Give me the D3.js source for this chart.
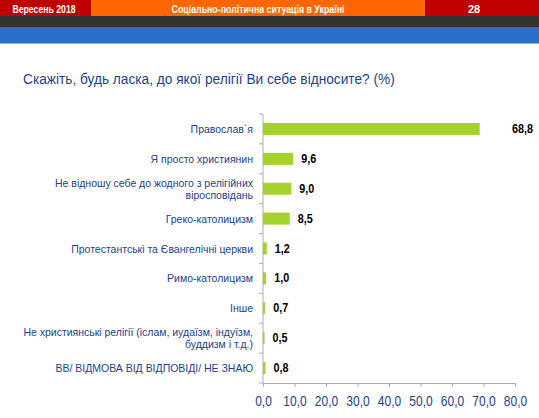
<!DOCTYPE html>
<html>
<head>
<meta charset="utf-8">
<script src="https://cdn.jsdelivr.net/npm/d3@7"></script>
<style>
  body { margin: 0; background: #fff; }
  svg { display: block; font-family: "Liberation Sans", Arial, sans-serif; }
</style>
</head>
<body>
<script>
const categories = [
  ["Православ`я"],
  ["Я просто християнин"],
  ["Не відношу себе до жодного з релігійних", "віросповідань"],
  ["Греко-католицизм"],
  ["Протестантські та Євангелічні церкви"],
  ["Римо-католицизм"],
  ["Інше"],
  ["Не християнські релігії (іслам, иудаїзм, індуїзм,", "буддизм і т.д.)"],
  ["ВВ/ ВІДМОВА ВІД ВІДПОВІДІ/ НЕ ЗНАЮ"]
];
const values = [68.8, 9.6, 9.0, 8.5, 1.2, 1.0, 0.7, 0.5, 0.8];
const ticks = [0, 10, 20, 30, 40, 50, 60, 70, 80];

const W = 539, H = 418;
const fmt = v => v.toFixed(1).replace(".", ",");
const blue = "#213f8f";
const axisCol = "#a9adbb";

const svg = d3.select("body").append("svg")
  .attr("width", W).attr("height", H);

// text slightly stretched vertically, like the exported slide
const label = (g, x, y, txt, size, k) => g.append("text")
  .attr("transform", `translate(${x},${y}) scale(1,${k})`)
  .attr("font-size", size).text(txt);

// header bands
svg.append("rect").attr("x", 0).attr("y", 0).attr("width", 91).attr("height", 16).attr("fill", "#c00000");
svg.append("rect").attr("x", 91).attr("y", 0).attr("width", 334).attr("height", 16).attr("fill", "#ff6600");
svg.append("rect").attr("x", 425).attr("y", 0).attr("width", 114).attr("height", 16).attr("fill", "#c00000");
svg.append("rect").attr("x", 0).attr("y", 16).attr("width", W).attr("height", 11).attr("fill", "#333333");
svg.append("rect").attr("x", 0).attr("y", 27).attr("width", W).attr("height", 16).attr("fill", "#2a70c8");
svg.append("rect").attr("x", 0).attr("y", 43).attr("width", W).attr("height", 1).attr("fill", "#8fb4e3");

label(svg, 44, 12.7, "Вересень 2018", 8.7, 1.25)
  .attr("text-anchor", "middle").attr("fill", "#fff").attr("font-weight", "bold");
label(svg, 258, 12.7, "Соціально-політична ситуація в Україні", 8.8, 1.25)
  .attr("text-anchor", "middle").attr("fill", "#fff").attr("font-weight", "bold");
label(svg, 474, 13, "28", 11, 1.05)
  .attr("text-anchor", "middle").attr("fill", "#fff").attr("font-weight", "bold");

label(svg, 23, 84, "Скажіть, будь ласка, до якої релігії Ви себе відносите? (%)", 13.7, 1.12)
  .attr("fill", blue);

const x = d3.scaleLinear().domain([0, 80]).range([263, 515]);
const y = d3.scaleBand().domain(d3.range(categories.length)).range([114, 383]);
const cy = i => y(i) + y.bandwidth() / 2;

// bars
svg.append("g").selectAll("rect").data(values).join("rect")
  .attr("x", x(0))
  .attr("y", (d, i) => cy(i) - 6)
  .attr("width", d => x(d) - x(0))
  .attr("height", 12)
  .attr("fill", "#a6d22e");

// value labels
svg.append("g").selectAll("text").data(values).join("text")
  .attr("transform", (d, i) => `translate(${i === 0 ? 533 : x(d) + 8},${cy(i) + 4}) scale(1,1.1)`)
  .attr("text-anchor", (d, i) => i === 0 ? "end" : "start")
  .attr("font-size", 10.8).attr("font-weight", "bold").attr("fill", "#000")
  .text(fmt);

// category labels
const lab = svg.append("g").selectAll("text").data(categories).join("text")
  .attr("text-anchor", "end")
  .attr("font-size", 10.5).attr("fill", blue)
  .attr("transform", (d, i) => `translate(253,${cy(i) + 4 - (d.length - 1) * 6}) scale(1,1.1)`);
lab.selectAll("tspan").data(d => d).join("tspan")
  .attr("x", 0).attr("dy", (d, j) => j ? 11 : 0).text(d => d);

// y axis line with ticks at band edges
const ay = svg.append("g").attr("stroke", axisCol).attr("stroke-width", 1);
ay.append("line").attr("x1", x(0)).attr("x2", x(0)).attr("y1", 114).attr("y2", 383);
ay.selectAll("line.t").data(d3.range(categories.length + 1)).join("line").attr("class", "t")
  .attr("x1", x(0) - 4).attr("x2", x(0))
  .attr("y1", i => 114 + i * y.step()).attr("y2", i => 114 + i * y.step());

// x axis
const ax = svg.append("g").attr("transform", "translate(0,383)")
  .call(d3.axisBottom(x).tickValues(ticks).tickFormat(fmt).tickSize(4));
ax.select(".domain").attr("stroke", axisCol);
ax.selectAll(".tick line").attr("stroke", axisCol);
ax.selectAll(".tick text")
  .attr("y", 0).attr("dy", 0)
  .attr("transform", "translate(0,22.5) scale(1,1.2)")
  .attr("fill", blue).attr("font-size", 12)
  .attr("font-family", "Liberation Sans, Arial, sans-serif");
</script>
</body>
</html>
